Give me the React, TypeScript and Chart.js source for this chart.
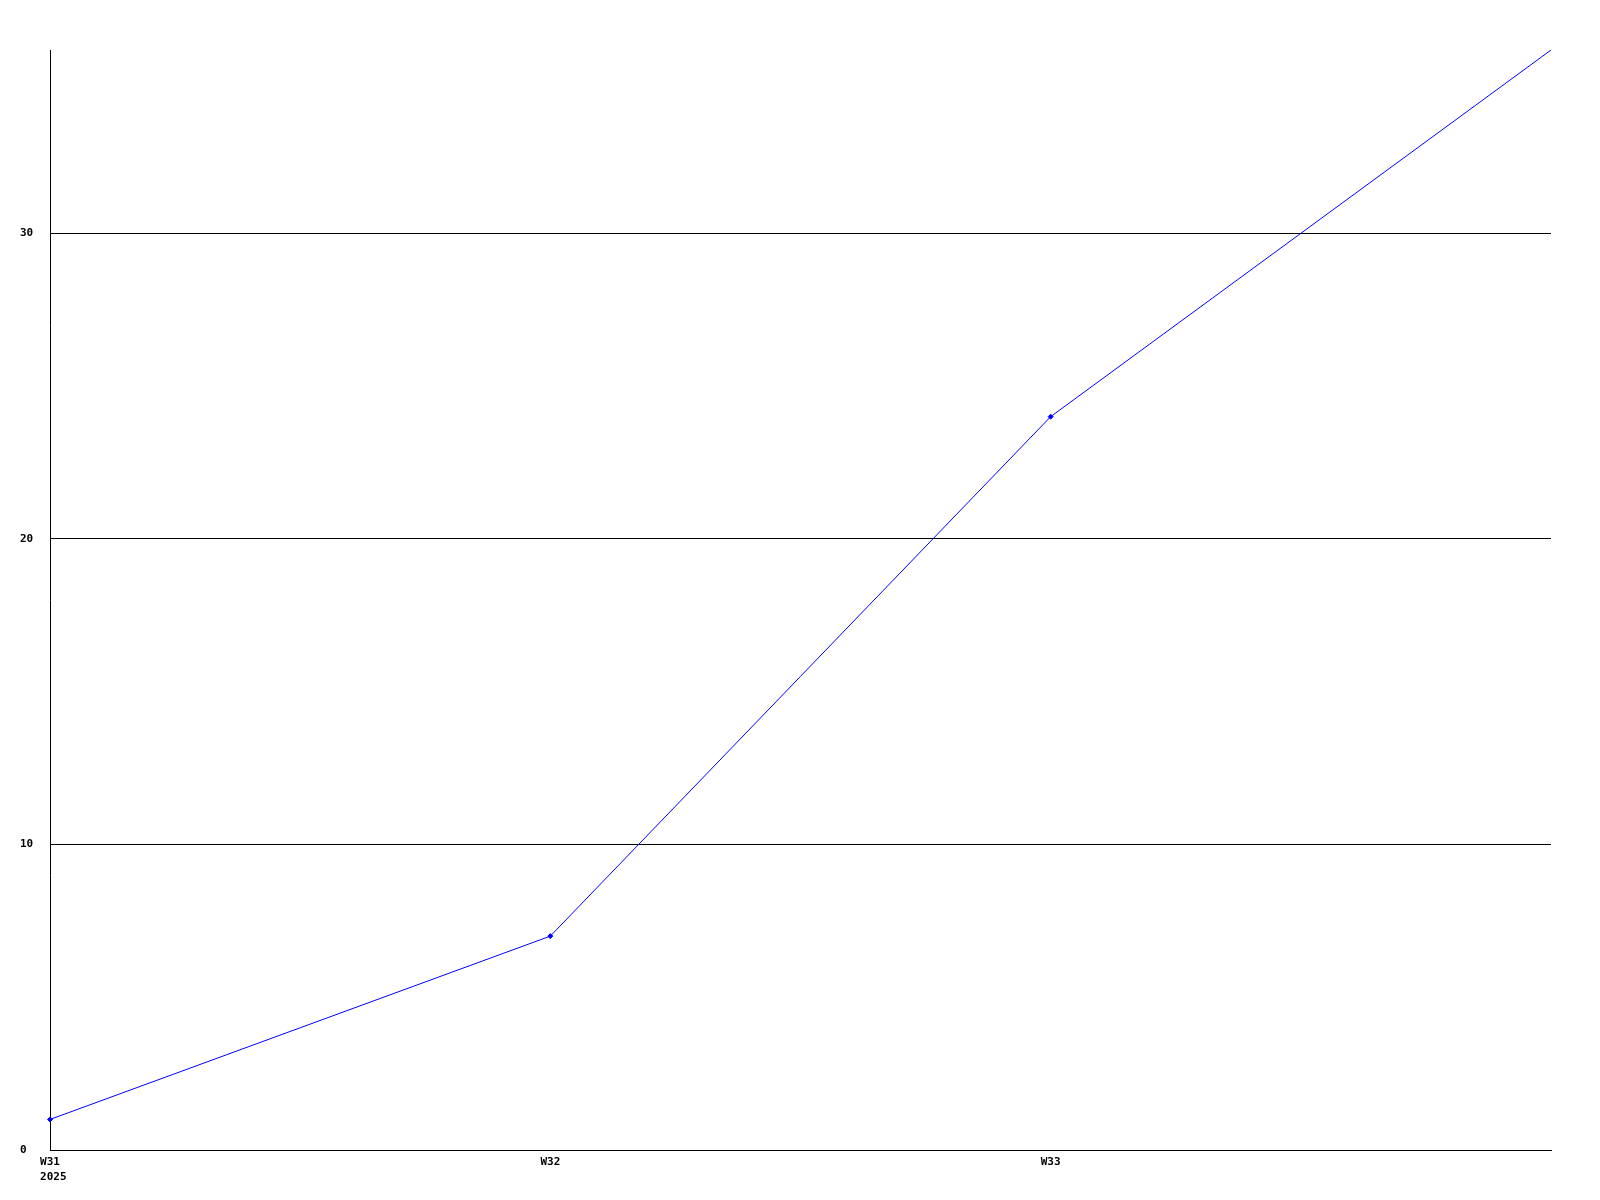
import React, { useEffect, useRef } from "react";
import { Chart, registerables } from "chart.js";

Chart.register(...registerables);

const weeks = ["W31", "W32", "W33", "W34"];
const yearLabel = "2025";
const values = [1, 7, 24, 36];
const yTickValues = [0, 10, 20, 30];
const shownXLabels = ["W31", "W32", "W33"];

const FONT_FAMILY = "'DejaVu Sans Mono', 'Liberation Mono', monospace";

export default function App() {
  const ref = useRef<HTMLCanvasElement | null>(null);

  useEffect(() => {
    if (!ref.current) return;
    const yearPlugin = {
      id: "yearLabel",
      afterDraw(chart: any) {
        const x = chart.scales.x;
        const ctx = chart.ctx;
        ctx.save();
        ctx.font = `bold 11px ${FONT_FAMILY}`;
        ctx.fillStyle = "#000";
        ctx.textBaseline = "middle";
        ctx.textAlign = "left";
        const w = ctx.measureText(weeks[0]).width;
        const px = x.getPixelForValue(0) - w / 2;
        ctx.fillText(yearLabel, px, x.top + 6 + 6.6 + 15);
        ctx.restore();
      },
    };
    const chart = new Chart(ref.current, {
      type: "line",
      data: {
        labels: weeks,
        datasets: [
          {
            data: values,
            borderColor: "#0000ff",
            backgroundColor: "#0000ff",
            borderWidth: 1,
            pointStyle: "rectRot",
            pointRadius: (c: any) => (c.dataIndex === values.length - 1 ? 0 : 2.5),
            pointBorderWidth: 1,
            tension: 0,
            fill: false,
          },
        ],
      },
      options: {
        animation: false,
        responsive: false,
        devicePixelRatio: 1,
        layout: { padding: { left: 20, top: 50, right: 49, bottom: 0 } },
        plugins: {
          legend: { display: false },
          tooltip: { enabled: false },
        },
        scales: {
          x: {
            offset: false,
            grid: { display: false, drawTicks: false },
            border: { display: true, color: "#000", width: 1 },
            ticks: {
              autoSkip: false,
              maxRotation: 0,
              padding: 6,
              color: "#000",
              font: { family: FONT_FAMILY, size: 11, weight: "bold" },
              callback: (_v: any, i: number) => (shownXLabels[i] !== undefined ? shownXLabels[i] : ""),
            },
            afterFit: (s: any) => {
              s.height = 50;
            },
          },
          y: {
            min: 0,
            max: 36,
            grid: { display: true, color: "#000", lineWidth: 1, drawTicks: false },
            border: { display: true, color: "#000", width: 1 },
            afterBuildTicks: (s: any) => {
              s.ticks = yTickValues.map((v) => ({ value: v }));
            },
            ticks: {
              crossAlign: "far",
              padding: 0,
              color: "#000",
              font: { family: FONT_FAMILY, size: 11, weight: "bold" },
            },
            afterFit: (s: any) => {
              s.width = 30;
            },
          },
        },
      } as any,
      plugins: [yearPlugin],
    });
    return () => chart.destroy();
  }, []);

  return (
    <div style={{ position: "absolute", left: 0, top: 0, width: 1600, height: 1200, background: "#fff" }}>
      <canvas ref={ref} width={1600} height={1200} style={{ display: "block" }} />
    </div>
  );
}
